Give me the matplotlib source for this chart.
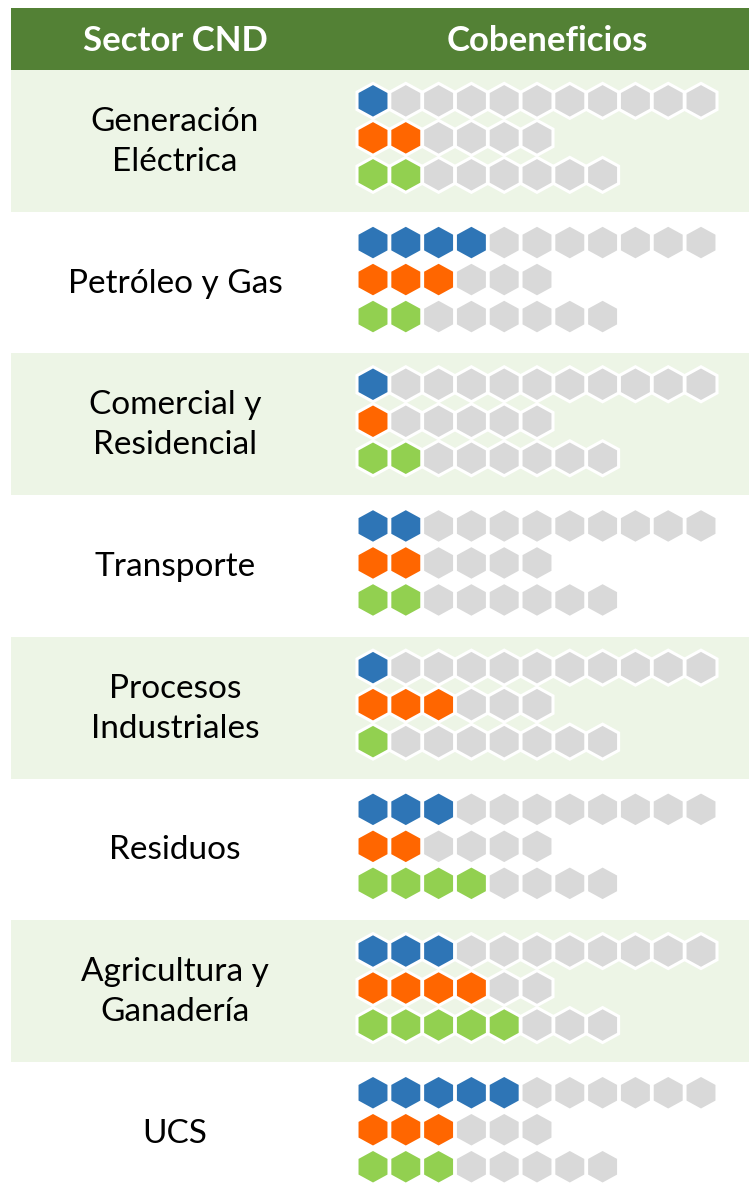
import matplotlib
matplotlib.use("Agg")
import matplotlib.pyplot as plt
from matplotlib.patches import Rectangle, Polygon

sectors = ["Generación\nEléctrica", "Petróleo y Gas", "Comercial y\nResidencial",
           "Transporte", "Procesos\nIndustriales", "Residuos",
           "Agricultura y\nGanadería", "UCS"]
blue_vals = [1, 4, 1, 2, 1, 3, 3, 5]
orange_vals = [2, 3, 1, 2, 3, 2, 4, 3]
green_vals = [2, 2, 2, 2, 1, 4, 5, 3]
totals = [11, 6, 8]
colors = ["#2E75B6", "#FF6600", "#92D050"]
gray = "#D9D9D9"
header_labels = ["Sector CND", "Cobeneficios"]

W, H = 749, 1185
fig = plt.figure(figsize=(W / 100, H / 100), dpi=100)
ax = fig.add_axes([0, 0, 1, 1])
ax.set_xlim(0, W)
ax.set_ylim(H, 0)
ax.axis("off")

font = "Lato"

# header
ax.add_patch(Rectangle((11, 8), W - 11, 62, facecolor="#538135", edgecolor="none"))
ax.text(175, 41, header_labels[0], ha="center", va="center", color="white",
        fontsize=25, fontweight="bold", family=font)
ax.text(547, 41, header_labels[1], ha="center", va="center", color="white",
        fontsize=25, fontweight="bold", family=font)

row_top0 = 70
row_h = 141.7
x0 = 373
px = 32.8
py = 37
hw, hh = 16.0, 17.5


def hexagon(cx, cy):
    return [(cx, cy - hh), (cx + hw, cy - hh / 2), (cx + hw, cy + hh / 2),
            (cx, cy + hh), (cx - hw, cy + hh / 2), (cx - hw, cy - hh / 2)]


for i, name in enumerate(sectors):
    top = row_top0 + i * row_h
    if i % 2 == 0:
        ax.add_patch(Rectangle((11, top), W - 11, row_h, facecolor="#EDF5E6", edgecolor="none"))
    cy = top + row_h / 2
    ax.text(175, cy + 1, name, ha="center", va="center", color="black",
            fontsize=24, family=font, linespacing=1.42)
    vals = [blue_vals[i], orange_vals[i], green_vals[i]]
    for k in range(3):
        yy = cy - 3 + (k - 1) * py
        for j in range(totals[k]):
            fc = colors[k] if j < vals[k] else gray
            ax.add_patch(Polygon(hexagon(x0 + j * px, yy), closed=True, facecolor=fc,
                                 edgecolor="white", linewidth=2.2, joinstyle="miter"))

fig.savefig("out.png", dpi=100)
